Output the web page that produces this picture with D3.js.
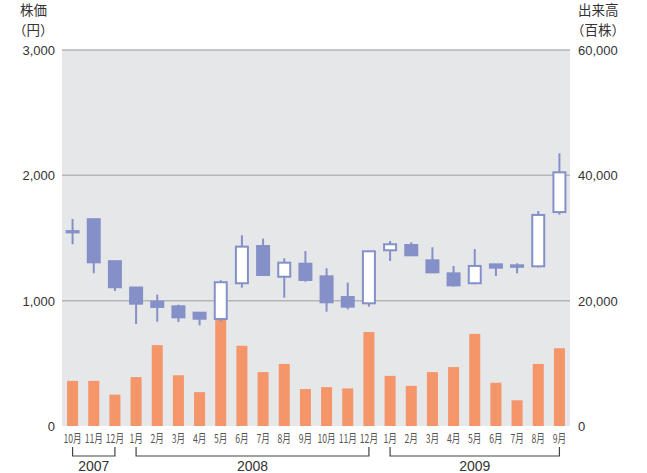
<!DOCTYPE html>
<html>
  <head>
    <meta charset="utf-8" />
    <script src="https://cdn.jsdelivr.net/npm/d3@7/dist/d3.min.js"></script>
    <style>
      body {
        margin: 0;
        background: #fff;
      }
      text {
        font-family: "Liberation Sans", "Noto Sans CJK JP", sans-serif;
        fill: #333;
      }
      .jp {
        font-family: "Noto Sans CJK JP", sans-serif;
      }
    </style>
  </head>
  <body>
    <svg id="chart"></svg>
    <script type="text/javascript">
      // months (Oct 2007 - Sep 2009)
      const months = ["10月", "11月", "12月", "1月", "2月", "3月", "4月", "5月", "6月", "7月", "8月", "9月",
        "10月", "11月", "12月", "1月", "2月", "3月", "4月", "5月", "6月", "7月", "8月", "9月"];
      // stock price (yen)
      const open = [1545, 1650, 1315, 1105, 992, 955, 904, 854, 1139, 1436, 1191, 1295,
        1194, 1029, 979, 1402, 1444, 1322, 1218, 1139, 1290, 1270, 1274, 1707];
      const close = [1555, 1306, 1107, 976, 950, 867, 856, 1147, 1431, 1205, 1303, 1165,
        987, 952, 1394, 1450, 1362, 1226, 1122, 1277, 1263, 1282, 1684, 2024];
      const high = [1652, 1650, 1322, 1105, 1048, 968, 904, 1163, 1522, 1495, 1338, 1396,
        1258, 1144, 1394, 1476, 1466, 1426, 1277, 1412, 1290, 1298, 1715, 2176];
      const low = [1450, 1218, 1077, 814, 832, 830, 803, 832, 1104, 1205, 1024, 1151,
        912, 931, 952, 1317, 1362, 1226, 1112, 1131, 1197, 1218, 1266, 1686];
      // trading volume (hundred shares)
      const volume = [7200, 7200, 5000, 7800, 12900, 8100, 5400, 17100, 12800, 8600, 9900, 5900,
        6200, 6000, 15000, 8000, 6400, 8600, 9400, 14700, 6900, 4100, 9900, 12400];
      // year brackets: first and last month index
      const years = [
        { label: "2007", from: 0, to: 2 },
        { label: "2008", from: 3, to: 14 },
        { label: "2009", from: 15, to: 23 }
      ];
      const priceTicks = [0, 1000, 2000, 3000];
      const volumeTicks = [0, 20000, 40000, 60000];

      const width = 647,
        height = 473,
        margin = { left: 62, right: 77, top: 50, bottom: 47 };

      const upColor = "#8590c8",
        barColor = "#f5956a";

      const svg = d3.select("#chart").attr("width", width).attr("height", height);

      const idx = d3.range(months.length);

      const x = d3
        .scaleBand()
        .domain(idx)
        .range([margin.left, width - margin.right])
        .paddingInner(0.48)
        .paddingOuter(0.24);

      const yPrice = d3
        .scaleLinear()
        .domain([0, 3000])
        .range([height - margin.bottom, margin.top]);

      const yVol = d3
        .scaleLinear()
        .domain([0, 60000])
        .range([height - margin.bottom, margin.top]);

      // plot background
      svg
        .append("rect")
        .attr("x", margin.left)
        .attr("y", margin.top)
        .attr("width", width - margin.left - margin.right)
        .attr("height", height - margin.top - margin.bottom)
        .style("fill", "#e6e7e9");

      // grid lines
      svg
        .append("g")
        .selectAll("line")
        .data(priceTicks.filter(d => d > 0))
        .enter()
        .append("line")
        .attr("x1", margin.left)
        .attr("x2", width - margin.right)
        .attr("y1", d => yPrice(d))
        .attr("y2", d => yPrice(d))
        .style("stroke", "#b4b5b7")
        .style("stroke-width", 1.5);

      // volume bars
      svg
        .append("g")
        .selectAll("rect")
        .data(idx)
        .enter()
        .append("rect")
        .attr("x", i => x(i))
        .attr("width", x.bandwidth())
        .attr("y", i => yVol(volume[i]))
        .attr("height", i => yVol(0) - yVol(volume[i]))
        .style("fill", barColor);

      // candlesticks
      const bodyW = x.bandwidth() + 1;
      const candle = svg
        .append("g")
        .selectAll("g")
        .data(idx)
        .enter()
        .append("g");

      candle
        .append("line")
        .attr("x1", i => x(i) + x.bandwidth() / 2)
        .attr("x2", i => x(i) + x.bandwidth() / 2)
        .attr("y1", i => yPrice(high[i]))
        .attr("y2", i => yPrice(low[i]))
        .style("stroke", upColor)
        .style("stroke-width", 2);

      candle
        .append("rect")
        .attr("x", i => x(i) + x.bandwidth() / 2 - bodyW / 2)
        .attr("width", bodyW)
        .attr("y", i => yPrice(Math.max(open[i], close[i])))
        .attr("height", i => Math.max(1, Math.abs(yPrice(open[i]) - yPrice(close[i]))))
        .style("fill", i => (close[i] > open[i] + 20 ? "#fff" : upColor))
        .style("stroke", upColor)
        .style("stroke-width", 2);

      // left axis labels
      svg
        .append("g")
        .selectAll("text")
        .data(priceTicks)
        .enter()
        .append("text")
        .attr("x", margin.left - 7)
        .attr("y", d => yPrice(d) + 5)
        .attr("text-anchor", "end")
        .style("font-size", "13px")
        .text(d => d3.format(",")(d));

      // right axis labels
      svg
        .append("g")
        .selectAll("text")
        .data(volumeTicks)
        .enter()
        .append("text")
        .attr("x", width - margin.right + 8)
        .attr("y", d => yVol(d) + 5)
        .attr("text-anchor", "start")
        .style("font-size", "13px")
        .text(d => d3.format(",")(d));

      // axis titles
      svg.append("text").attr("class", "jp").attr("x", 20).attr("y", 15)
        .style("font-size", "13.5px").text("株価");
      svg.append("text").attr("class", "jp").attr("x", 13).attr("y", 35)
        .style("font-size", "13.5px").text("（円）");
      svg.append("text").attr("class", "jp").attr("x", 578).attr("y", 15)
        .style("font-size", "13.5px").text("出来高");
      svg.append("text").attr("class", "jp").attr("x", 571).attr("y", 35)
        .style("font-size", "13.5px").text("（百株）");

      // month labels (horizontally condensed like the original)
      svg
        .append("g")
        .selectAll("text")
        .data(idx)
        .enter()
        .append("text")
        .attr("class", "jp")
        .attr("transform", i => `translate(${x(i) + x.bandwidth() / 2},443) scale(0.72,1)`)
        .attr("text-anchor", "middle")
        .style("font-size", "12px")
        .style("fill", "#555")
        .text(i => months[i]);

      // year brackets
      const yearG = svg
        .append("g")
        .selectAll("g")
        .data(years)
        .enter()
        .append("g");

      yearG
        .append("path")
        .attr("d", d => {
          const x1 = x(d.from) + x.bandwidth() / 2,
            x2 = x(d.to) + x.bandwidth() / 2;
          return `M${x1},447V456H${x2}V447`;
        })
        .style("fill", "none")
        .style("stroke", "#444")
        .style("stroke-width", 1.2);

      yearG
        .append("text")
        .attr("x", d => (x(d.from) + x(d.to) + x.bandwidth()) / 2)
        .attr("y", 471)
        .attr("text-anchor", "middle")
        .style("font-size", "14px")
        .text(d => d.label);
    </script>
  </body>
</html>
